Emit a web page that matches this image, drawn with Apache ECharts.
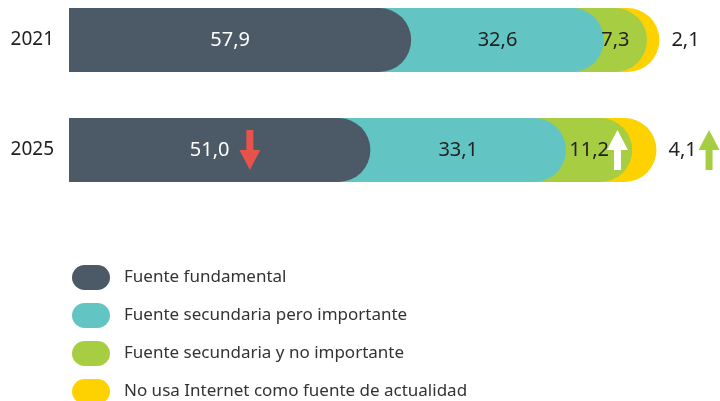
<!DOCTYPE html>
<html>
<head>
<meta charset="utf-8">
<script src="https://cdn.jsdelivr.net/npm/echarts@6/dist/echarts.min.js"></script>
<style>
  html, body { margin: 0; padding: 0; background: #fff; }
  #chart { width: 720px; height: 401px; }
</style>
</head>
<body>
<div id="chart"></div>
<script>
// datos
const years = ["2021", "2025"];
const fundamental = [57.9, 51.0];
const secundariaImportante = [32.6, 33.1];
const secundariaNoImportante = [7.3, 11.2];
const noUsa = [2.1, 4.1];

const names = [
  "Fuente fundamental",
  "Fuente secundaria pero importante",
  "Fuente secundaria y no importante",
  "No usa Internet como fuente de actualidad"
];
const colors = ["#4b5a66", "#63c5c3", "#a7cd43", "#fed200"];

// flechas de tendencia (2025): posición en el eje de valores
const arrowYear = ["2025", "2025", "2025"];
const arrowAt = [30.6, 92.8, 108.3];
const arrowDir = ["down", "up", "up"];
const arrowColor = ["#e5534b", "#ffffff", "#a7cd43"];

const groups = [fundamental, secundariaImportante, secundariaNoImportante, noUsa];

// acumulados para las barras solapadas con extremo redondeado
const cumulative = groups.map((g, i) =>
  years.map((y, j) => {
    let s = 0;
    for (let k = 0; k <= i; k++) s += groups[k][j];
    return +s.toFixed(1);
  })
);

const fmt = p => p.value.toFixed(1).replace(".", ",");
const pill = "path://M12.5,0 L25.5,0 A12.5,12.5 0 0 1 25.5,25 L12.5,25 A12.5,12.5 0 0 1 12.5,0 Z";
const arrowDown = "path://M7,0 L14,0 L14,20 L21,20 L10.5,40 L0,20 L7,20 Z";
const arrowUp = "path://M10.5,0 L21,20 L14,20 L14,40 L7,40 L7,20 L0,20 Z";

const series = [];
// se dibuja de atrás (amarillo) hacia delante (gris oscuro)
for (let i = groups.length - 1; i >= 0; i--) {
  series.push({
    name: names[i],
    type: "bar",
    data: cumulative[i],
    barWidth: 64,
    barGap: "-100%",
    silent: true,
    itemStyle: { color: colors[i], borderRadius: [0, 32, 32, 0] }
  });
}
// series invisibles apiladas sólo para las etiquetas
groups.forEach((g, i) => {
  const last = i === groups.length - 1;
  series.push({
    name: "lbl" + i,
    type: "bar",
    stack: "lbl",
    data: g,
    barWidth: 64,
    barGap: "-100%",
    silent: true,
    itemStyle: { color: "transparent" },
    label: {
      show: true,
      position: last ? "right" : "inside",
      distance: 12,
      offset: last ? [0, 0] : [-10, 0],
      formatter: fmt,
      color: i === 0 ? "#ffffff" : "#222222",
      fontSize: 20,
      fontFamily: "Noto Sans"
    }
  });
});
series.push({
  type: "scatter",
  silent: true,
  clip: false,
  z: 10,
  symbolSize: [21, 40],
  symbolKeepAspect: false,
  data: arrowAt.map((x, i) => ({
    value: [x, arrowYear[i]],
    symbol: arrowDir[i] === "down" ? arrowDown : arrowUp,
    itemStyle: { color: arrowColor[i], opacity: 1 }
  }))
});

const chart = echarts.init(document.getElementById("chart"));
chart.setOption({
  animation: false,
  grid: { left: 69, right: 60, top: 40, height: 110, outerBoundsMode: "none" },
  xAxis: { type: "value", min: 0, max: 100, show: false },
  yAxis: {
    type: "category",
    data: years,
    inverse: true,
    boundaryGap: false,
    axisLine: { show: false },
    axisTick: { show: false },
    splitLine: { show: false },
    axisLabel: { color: "#222222", fontSize: 19, margin: 15, fontFamily: "Noto Sans" }
  },
  legend: {
    data: names,
    orient: "vertical",
    left: 72,
    top: 265,
    height: 160,
    padding: 0,
    itemWidth: 38,
    itemHeight: 25,
    itemGap: 13,
    icon: pill,
    selectedMode: false,
    textStyle: { color: "#333333", fontSize: 17, fontFamily: "Noto Sans", padding: [0, 0, 0, 9] }
  },
  series: series
});
</script>
</body>
</html>
